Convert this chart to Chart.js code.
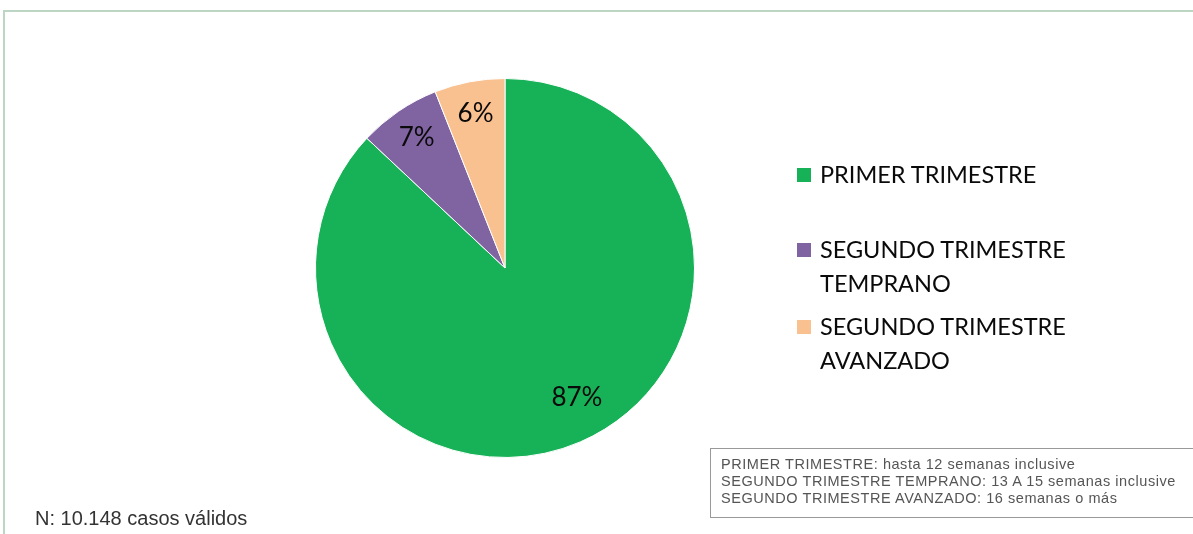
<!DOCTYPE html>
<html>
<head>
<meta charset="utf-8">
<script src="https://cdn.jsdelivr.net/npm/chart.js@4.4.0/dist/chart.umd.min.js"></script>
<style>
    html, body { margin: 0; padding: 0; background: #fff; }
    #wrap { position: relative; width: 1193px; height: 534px; overflow: hidden; }
    #frame { position: absolute; left: 3px; top: 10px; width: 1200px; height: 600px;
             border-top: 2px solid #bdd5c3; border-left: 2px solid #bdd5c3; }
    #myChart { position: absolute; left: 0; top: 0; }
    #legend { position: absolute; left: 797px; top: 0; font-family: Lato, sans-serif;
              font-size: 23.5px; color: #0a0a0a; }
    .item { position: absolute; left: 0; white-space: nowrap; line-height: 34px; }
    .box { position: absolute; left: 0; top: 11px; width: 14px; height: 14px; }
    .txt { position: absolute; left: 23px; top: 0; }
    #note { position: absolute; left: 710px; top: 448px; width: 483px; height: 70px;
            border: 1px solid #999; border-right: none; box-sizing: border-box; padding: 7px 0 0 10px;
            font-family: "Liberation Sans", Arial, sans-serif; font-size: 14.5px; letter-spacing: 0.55px;
            line-height: 17px; color: #555; white-space: nowrap; }
    #nText { position: absolute; left: 35px; top: 507px; font-family: "Liberation Sans", Arial, sans-serif;
             font-size: 20px; color: #333; }
</style>
</head>
<body>
<div id="wrap">
    <div id="frame"></div>
    <canvas id="myChart" width="1193" height="534"></canvas>
    <div id="legend"></div>
    <div id="note"></div>
    <div id="nText"></div>
</div>
<script>
// Datos del gráfico
const categorias = ['PRIMER TRIMESTRE', 'SEGUNDO TRIMESTRE TEMPRANO', 'SEGUNDO TRIMESTRE AVANZADO'];
const leyendaLineas = [['PRIMER TRIMESTRE'], ['SEGUNDO TRIMESTRE', 'TEMPRANO'], ['SEGUNDO TRIMESTRE', 'AVANZADO']];
const porcentajes = [87, 7, 6];
const colores = ['#17b257', '#8064a2', '#f9c090'];
const notas = [
    'PRIMER TRIMESTRE: hasta 12 semanas inclusive',
    'SEGUNDO TRIMESTRE TEMPRANO: 13 A 15 semanas inclusive',
    'SEGUNDO TRIMESTRE AVANZADO: 16 semanas o más'
];
const textoN = 'N: 10.148 casos válidos';

// Etiquetas de porcentaje dentro de cada porción
const etiquetasPlugin = {
    id: 'etiquetas',
    afterDatasetsDraw(chart) {
        const ctx = chart.ctx;
        ctx.save();
        ctx.font = '26px Lato, sans-serif';
        ctx.fillStyle = '#0a0a0a';
        ctx.textAlign = 'center';
        ctx.textBaseline = 'middle';
        chart.getDatasetMeta(0).data.forEach((arc, i) => {
            const p = arc.getProps(['x', 'y', 'startAngle', 'endAngle', 'outerRadius'], true);
            const mid = (p.startAngle + p.endAngle) / 2;
            const d = p.outerRadius * (i === 0 ? 0.78 : 0.83);
            const shift = i === 0 ? -0.1 : 0;
            ctx.fillText(porcentajes[i] + '%', p.x + Math.cos(mid + shift) * d, p.y + Math.sin(mid + shift) * d);
        });
        ctx.restore();
    }
};

const ctx = document.getElementById('myChart').getContext('2d');
new Chart(ctx, {
    type: 'pie',
    data: {
        labels: categorias,
        datasets: [{
            data: porcentajes,
            backgroundColor: colores,
            borderColor: '#ffffff',
            borderWidth: 1
        }]
    },
    options: {
        responsive: false,
        animation: false,
        layout: { padding: { left: 315, right: 498, top: 78, bottom: 76 } },
        plugins: {
            legend: { display: false },
            tooltip: { enabled: false }
        }
    },
    plugins: [etiquetasPlugin]
});

// Leyenda manual
const legend = document.getElementById('legend');
const tops = [157, 232, 309];
leyendaLineas.forEach((lineas, i) => {
    const item = document.createElement('div');
    item.className = 'item';
    item.style.top = tops[i] + 'px';
    item.innerHTML = '<div class="box" style="background:' + colores[i] + '"></div>' +
        '<div class="txt">' + lineas.join('<br>') + '</div>';
    legend.appendChild(item);
});

document.getElementById('note').innerHTML = notas.join('<br>');
document.getElementById('nText').textContent = textoN;
</script>
</body>
</html>
